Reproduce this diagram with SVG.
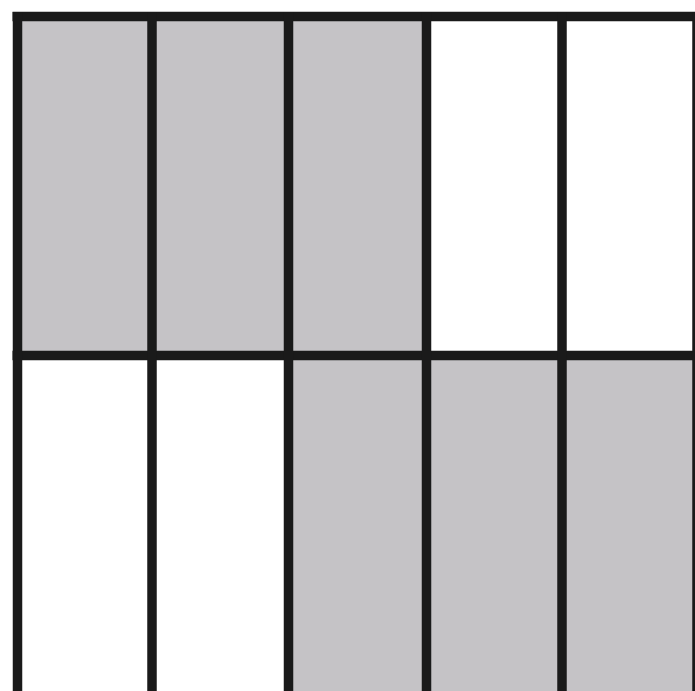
<svg xmlns="http://www.w3.org/2000/svg" width="695" height="691" viewBox="0 0 695 691">
<style>
.g{fill:#c5c3c6}
.w{fill:#ffffff}
.ln{stroke:#1a1a1a;stroke-width:9.5;fill:none}
</style>
<rect width="695" height="691" fill="#ffffff"/>
<g id="cells">
<rect class="g" x="17" y="16" width="136" height="340"/>
<rect class="g" x="153" y="16" width="136" height="340"/>
<rect class="g" x="289" y="16" width="137" height="340"/>
<rect class="w" x="426" y="16" width="136" height="340"/>
<rect class="w" x="562" y="16" width="135" height="340"/>
<rect class="w" x="17" y="356" width="136" height="340"/>
<rect class="w" x="153" y="356" width="136" height="340"/>
<rect class="g" x="289" y="356" width="137" height="340"/>
<rect class="g" x="426" y="356" width="136" height="340"/>
<rect class="g" x="562" y="356" width="135" height="340"/>
</g>
<g id="grid">
<line class="ln" x1="12.5" y1="16.5" x2="702" y2="16.5"/>
<line class="ln" x1="12.5" y1="355.5" x2="702" y2="355.5"/>
<line class="ln" x1="17.5" y1="12" x2="17.5" y2="691"/>
<line class="ln" x1="152" y1="12" x2="152" y2="691"/>
<line class="ln" x1="288.5" y1="12" x2="288.5" y2="691"/>
<line class="ln" x1="426.5" y1="12" x2="426.5" y2="691"/>
<line class="ln" x1="562" y1="12" x2="562" y2="691"/>
<line class="ln" x1="697" y1="12" x2="697" y2="691"/>
</g>
</svg>
